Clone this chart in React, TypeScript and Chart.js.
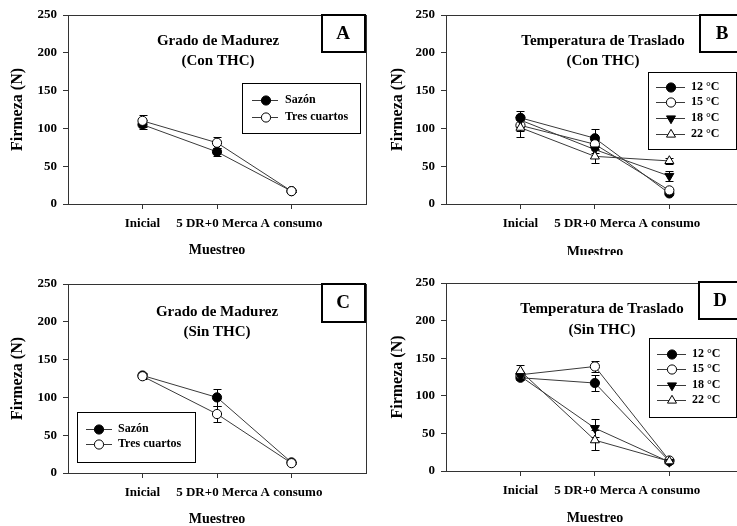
import React, { useEffect, useRef } from "react";
import { Chart, registerables } from "chart.js";

Chart.register(...registerables);

const FONT = "'Liberation Serif', 'Times New Roman', Times, serif";
const LINE = "#3a3a3a";
const AXIS = "#333";

// ---------- data ----------
const categories = ["Inicial", "5 DR+0 Merca", "A consumo"];
const maturityLabels = ["Sazón", "Tres cuartos"];
const tempLabels = ["12 °C", "15 °C", "18 °C", "22 °C"];

// Panel A – Grado de Madurez (Con THC)
const sazonA = [105, 69, 17];
const sazonAErr = [6, 5, 1];
const tresA = [110, 81, 17];
const tresAErr = [8, 7, 1];

// Panel B – Temperatura de Traslado (Con THC)
const b12 = [114, 87, 14];
const b12Err = [9, 12, 2];
const b15 = [104, 79, 18];
const b15Err = [7, 6, 2];
const b18 = [111, 72, 37];
const b18Err = [6, 5, 6];
const b22 = [101, 63, 57];
const b22Err = [12, 9, 4];

// Panel C – Grado de Madurez (Sin THC)
const sazonC = [129, 100, 14];
const sazonCErr = [3, 11, 1];
const tresC = [128, 78, 13];
const tresCErr = [3, 10, 1];

// Panel D – Temperatura de Traslado (Sin THC)
const d12 = [124, 117, 13];
const d12Err = [3, 11, 1];
const d15 = [128, 139, 14];
const d15Err = [4, 7, 1];
const d18 = [126, 57, 12];
const d18Err = [4, 12, 1];
const d22 = [133, 41, 13];
const d22Err = [8, 13, 1];

// ---------- types ----------
type Shape = "circle" | "triUp" | "triDown";
type Series = { label: string; values: number[]; errors: number[]; shape: Shape; filled: boolean };
type PanelCfg = {
  key: string;
  wrap: { left: number; top: number; width: number; height: number };
  area: { l: number; t: number; r: number; b: number };
  title: string[];
  titleX: number;
  titleY: number[];
  letter: string;
  letterBox: { x: number; y: number; w: number; h: number };
  letterPos: { x: number; y: number };
  legend: { x: number; y: number; w: number; h: number; l0: number; l1: number; mx: number; tx: number; rows: number[] };
  yTitleX: number;
  xTitleY: number;
  series: Series[];
};

const CW = 380;
const CH = 270;

const maturity = (a: number[], ae: number[], b: number[], be: number[]): Series[] => [
  { label: maturityLabels[0], values: a, errors: ae, shape: "circle", filled: true },
  { label: maturityLabels[1], values: b, errors: be, shape: "circle", filled: false },
];
const temps = (v: number[][], e: number[][]): Series[] => [
  { label: tempLabels[0], values: v[0], errors: e[0], shape: "circle", filled: true },
  { label: tempLabels[1], values: v[1], errors: e[1], shape: "circle", filled: false },
  { label: tempLabels[2], values: v[2], errors: e[2], shape: "triDown", filled: true },
  { label: tempLabels[3], values: v[3], errors: e[3], shape: "triUp", filled: false },
];

const panels: PanelCfg[] = [
  {
    key: "A",
    wrap: { left: 0, top: 0, width: 370, height: 258 },
    area: { l: 68, t: 15, r: 366, b: 204 },
    title: ["Grado de Madurez", "(Con THC)"],
    titleX: 218,
    titleY: [41, 61],
    letter: "A",
    letterBox: { x: 322, y: 15, w: 43, h: 37 },
    letterPos: { x: 343, y: 34 },
    legend: { x: 242, y: 83, w: 118, h: 50, l0: 252, l1: 278, mx: 266, tx: 285, rows: [100, 117] },
    yTitleX: 18,
    xTitleY: 250,
    series: maturity(sazonA, sazonAErr, tresA, tresAErr),
  },
  {
    key: "B",
    wrap: { left: 370, top: 0, width: 367, height: 255 },
    area: { l: 76, t: 15, r: 374, b: 204 },
    title: ["Temperatura de Traslado", "(Con THC)"],
    titleX: 233,
    titleY: [41, 61],
    letter: "B",
    letterBox: { x: 330, y: 15, w: 50, h: 37 },
    letterPos: { x: 352, y: 34 },
    legend: { x: 278, y: 72, w: 88, h: 77, l0: 286, l1: 315, mx: 301, tx: 321, rows: [87, 102, 118, 134] },
    yTitleX: 28,
    xTitleY: 252,
    series: temps([b12, b15, b18, b22], [b12Err, b15Err, b18Err, b22Err]),
  },
  {
    key: "C",
    wrap: { left: 0, top: 260, width: 370, height: 266 },
    area: { l: 68, t: 24, r: 366, b: 213 },
    title: ["Grado de Madurez", "(Sin THC)"],
    titleX: 217,
    titleY: [52, 72],
    letter: "C",
    letterBox: { x: 322, y: 24, w: 43, h: 38 },
    letterPos: { x: 343, y: 43 },
    legend: { x: 77, y: 152, w: 118, h: 50, l0: 86, l1: 112, mx: 99, tx: 118, rows: [169, 184] },
    yTitleX: 18,
    xTitleY: 259,
    series: maturity(sazonC, sazonCErr, tresC, tresCErr),
  },
  {
    key: "D",
    wrap: { left: 370, top: 260, width: 367, height: 266 },
    area: { l: 76, t: 23, r: 374, b: 211 },
    title: ["Temperatura de Traslado", "(Sin THC)"],
    titleX: 232,
    titleY: [49, 70],
    letter: "D",
    letterBox: { x: 329, y: 22, w: 50, h: 37 },
    letterPos: { x: 350, y: 41 },
    legend: { x: 279, y: 78, w: 87, h: 79, l0: 287, l1: 316, mx: 302, tx: 322, rows: [94, 109, 125, 140] },
    yTitleX: 28,
    xTitleY: 258,
    series: temps([d12, d15, d18, d22], [d12Err, d15Err, d18Err, d22Err]),
  },
];

function drawMarker(ctx: CanvasRenderingContext2D, shape: Shape, filled: boolean, x: number, y: number) {
  ctx.save();
  ctx.beginPath();
  if (shape === "circle") {
    ctx.arc(x, y, 4.6, 0, Math.PI * 2);
  } else {
    const r = 5.2;
    const s = shape === "triUp" ? 1 : -1;
    ctx.moveTo(x, y - s * r);
    ctx.lineTo(x + 0.866 * r, y + s * 0.5 * r);
    ctx.lineTo(x - 0.866 * r, y + s * 0.5 * r);
    ctx.closePath();
  }
  ctx.fillStyle = filled ? "#000" : "#fff";
  ctx.fill();
  ctx.strokeStyle = "#000";
  ctx.lineWidth = 1;
  ctx.stroke();
  ctx.restore();
}

function makeOverlay(cfg: PanelCfg) {
  return {
    id: "overlay" + cfg.key,
    beforeDatasetsDraw(chart: any) {
      const ctx: CanvasRenderingContext2D = chart.ctx;
      const xs = chart.scales.x;
      const ys = chart.scales.y;
      ctx.save();
      ctx.strokeStyle = "#000";
      ctx.lineWidth = 1;
      cfg.series.forEach((s) => {
        s.values.forEach((v, j) => {
          const e = s.errors[j];
          if (!e) return;
          const x = Math.round(xs.getPixelForValue(j + 1)) + 0.5;
          const yt = Math.round(ys.getPixelForValue(v + e)) + 0.5;
          const yb = Math.round(ys.getPixelForValue(v - e)) + 0.5;
          ctx.beginPath();
          ctx.moveTo(x, yt);
          ctx.lineTo(x, yb);
          ctx.moveTo(x - 4, yt);
          ctx.lineTo(x + 4, yt);
          ctx.moveTo(x - 4, yb);
          ctx.lineTo(x + 4, yb);
          ctx.stroke();
        });
      });
      ctx.restore();
    },
    afterDraw(chart: any) {
      const ctx: CanvasRenderingContext2D = chart.ctx;
      const ca = chart.chartArea;
      ctx.save();
      // frame
      ctx.strokeStyle = AXIS;
      ctx.lineWidth = 1;
      ctx.strokeRect(Math.round(ca.left) + 0.5, Math.round(ca.top) + 0.5, Math.round(ca.right - ca.left), Math.round(ca.bottom - ca.top));
      // title
      ctx.fillStyle = "#000";
      ctx.textAlign = "center";
      ctx.textBaseline = "middle";
      ctx.font = `bold 15px ${FONT}`;
      cfg.title.forEach((t, i) => ctx.fillText(t, cfg.titleX, cfg.titleY[i]));
      // letter box
      const lb = cfg.letterBox;
      ctx.fillStyle = "#fff";
      ctx.fillRect(lb.x, lb.y, lb.w, lb.h);
      ctx.strokeStyle = "#000";
      ctx.lineWidth = 2;
      ctx.strokeRect(lb.x, lb.y, lb.w, lb.h);
      ctx.fillStyle = "#000";
      ctx.font = `bold 19px ${FONT}`;
      ctx.fillText(cfg.letter, cfg.letterPos.x, cfg.letterPos.y);
      // legend
      const lg = cfg.legend;
      ctx.fillStyle = "#fff";
      ctx.fillRect(lg.x, lg.y, lg.w, lg.h);
      ctx.strokeStyle = "#000";
      ctx.lineWidth = 1;
      ctx.strokeRect(lg.x + 0.5, lg.y + 0.5, lg.w, lg.h);
      cfg.series.forEach((s, i) => {
        const y = lg.rows[i];
        ctx.strokeStyle = LINE;
        ctx.lineWidth = 1;
        ctx.beginPath();
        ctx.moveTo(lg.l0, y + 0.5);
        ctx.lineTo(lg.l1, y + 0.5);
        ctx.stroke();
        drawMarker(ctx, s.shape, s.filled, lg.mx, y + 0.5);
        ctx.fillStyle = "#000";
        ctx.font = `bold 12px ${FONT}`;
        ctx.textAlign = "left";
        ctx.textBaseline = "middle";
        ctx.fillText(s.label, lg.tx, y);
      });
      // axis titles
      ctx.fillStyle = "#000";
      ctx.textAlign = "center";
      ctx.textBaseline = "middle";
      ctx.font = `bold 14px ${FONT}`;
      ctx.fillText("Muestreo", (ca.left + ca.right) / 2, cfg.xTitleY);
      ctx.save();
      ctx.translate(cfg.yTitleX, (ca.top + ca.bottom) / 2);
      ctx.rotate(-Math.PI / 2);
      ctx.font = `bold 16px ${FONT}`;
      ctx.fillText("Firmeza (N)", 0, 0);
      ctx.restore();
      ctx.restore();
    },
  };
}

function Panel({ cfg }: { cfg: PanelCfg }) {
  const ref = useRef<HTMLCanvasElement>(null);
  useEffect(() => {
    const canvas = ref.current!;
    const tickFont = { family: FONT, size: 13, weight: "bold" as const };
    const n = cfg.series.length;
    const chart = new Chart(canvas, {
      type: "line",
      data: {
        datasets: cfg.series.map((s, i) => ({
          label: s.label,
          order: n - 1 - i,
          data: s.values.map((v, j) => ({ x: j + 1, y: v })),
          borderColor: LINE,
          borderWidth: 1,
          pointStyle: s.shape === "circle" ? "circle" : "triangle",
          pointRotation: s.shape === "triDown" ? 180 : 0,
          pointRadius: s.shape === "circle" ? 4.6 : 5.2,
          pointBackgroundColor: s.filled ? "#000" : "#fff",
          pointBorderColor: "#000",
          pointBorderWidth: 1,
          tension: 0,
          fill: false,
        })),
      },
      options: {
        animation: false,
        responsive: false,
        maintainAspectRatio: false,
        devicePixelRatio: 1,
        events: [],
        layout: { padding: { left: 0, top: cfg.area.t, right: CW - cfg.area.r, bottom: 0 } },
        plugins: { legend: { display: false }, tooltip: { enabled: false }, title: { display: false } },
        scales: {
          x: {
            type: "linear",
            min: 0,
            max: 4,
            afterBuildTicks: (s: any) => {
              s.ticks = [1, 2, 3].map((v) => ({ value: v }));
            },
            afterFit: (s: any) => {
              s.height = CH - cfg.area.b;
            },
            ticks: {
              autoSkip: false,
              maxRotation: 0,
              minRotation: 0,
              padding: 7,
              color: "#000",
              font: tickFont,
              callback: (v: any) => categories[Number(v) - 1] ?? "",
            },
            grid: { display: true, drawOnChartArea: false, drawTicks: true, tickLength: 5, color: AXIS },
            border: { display: false },
          },
          y: {
            type: "linear",
            min: 0,
            max: 250,
            afterFit: (s: any) => {
              s.width = cfg.area.l;
            },
            ticks: { stepSize: 50, padding: 6, color: "#000", font: tickFont },
            grid: { display: true, drawOnChartArea: false, drawTicks: true, tickLength: 5, color: AXIS },
            border: { display: false },
          },
        },
      } as any,
      plugins: [makeOverlay(cfg)],
    });
    return () => chart.destroy();
  }, [cfg]);
  return (
    <div
      style={{
        position: "absolute",
        left: cfg.wrap.left,
        top: cfg.wrap.top,
        width: cfg.wrap.width,
        height: cfg.wrap.height,
        overflow: "hidden",
      }}
    >
      <canvas ref={ref} width={CW} height={CH} style={{ display: "block", width: CW, height: CH }} />
    </div>
  );
}

export default function App() {
  return (
    <div style={{ position: "absolute", left: 0, top: 0, width: 737, height: 526, background: "#fff", overflow: "hidden" }}>
      {panels.map((p) => (
        <Panel key={p.key} cfg={p} />
      ))}
    </div>
  );
}
